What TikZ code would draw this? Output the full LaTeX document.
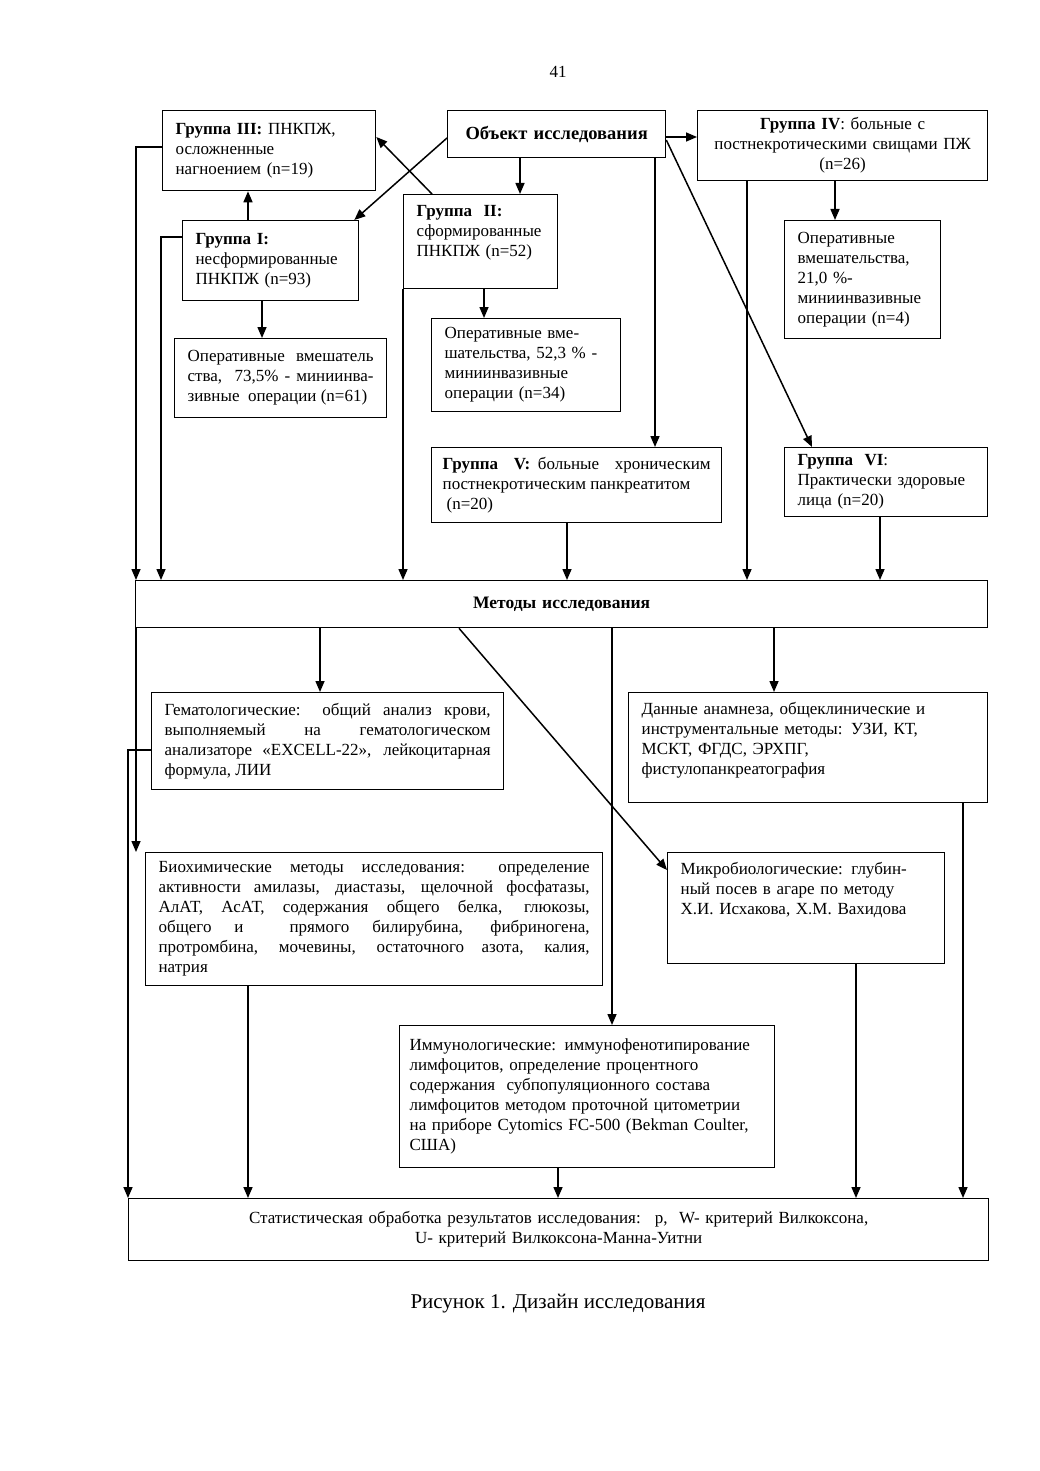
\documentclass[tikz,border=0pt]{standalone}
\usepackage{fontspec}
\setmainfont{Liberation Serif}
\usetikzlibrary{arrows.meta}
\newcommand{\bodyfont}{\fontsize{17}{20}\selectfont}

\begin{document}
\begin{tikzpicture}[
			x=1pt, y=-1pt,
			box/.style={draw, line width=1.3pt, anchor=north west, inner xsep=13pt, inner ysep=2pt, align=left, font=\bodyfont},
			arrow/.style={-{Triangle[length=11pt, width=9pt]}, line width=1.5pt}
		]
		\useasboundingbox (0,0) rectangle (1040,1471);
		\node[font=\bodyfont] (pnum) at (558,72) {41};

		% groups
		\node[box, minimum width=218pt, minimum height=47pt, text width=204pt, inner xsep=7pt, align=center, font=\fontsize{18.5}{22}\selectfont] (obj) at (447,110) {\textbf{Объект исследования}};
		\node[box, minimum width=213pt, minimum height=80pt, text width=187pt] (g3) at (162,110) {\textbf{Группа III:} ПНКПЖ,\\ осложненные\\ нагноением (n=19)};
		\node[box, minimum width=290pt, minimum height=70pt, text width=276pt, inner xsep=7pt, align=center] (g4) at (697,110) {\textbf{Группа IV}: больные с\\ постнекротическими свищами ПЖ\\ (n=26)};
		\node[box, minimum width=176pt, minimum height=80pt, text width=150pt] (g1) at (182,220) {\textbf{Группа I:}\\ несформированные\\ ПНКПЖ (n=93)};
		\node[box, minimum width=154pt, minimum height=94pt, text width=128pt, text depth=62pt] (g2) at (403,194) {\textbf{Группа~ II:}\\ сформированные\\ ПНКПЖ (n=52)};
		\node[box, minimum width=212pt, minimum height=79pt, text width=186pt, align=justify] (op1) at (174,338) {Оперативные вмешатель\linebreak ства,~ 73,5\% - миниинва-\linebreak зивные~ операции (n=61)};
		\node[box, minimum width=189pt, minimum height=93pt, text width=163pt] (op2) at (431,318) {Оперативные вме-\\ шательства, 52,3 \% -\\ миниинвазивные\\ операции (n=34)};
		\node[box, minimum width=156pt, minimum height=118pt, text width=130pt] (op4) at (784,220) {Оперативные\\ вмешательства,\\ 21,0 \%-\\ миниинвазивные\\ операции (n=4)};
		\node[box, minimum width=290pt, minimum height=75pt, inner xsep=7pt, text width=268pt, align=justify] (g5) at (431,447) {\textbf{Группа~ V:} больные~ хроническим\linebreak постнекротическим панкреатитом\\ \hspace*{4pt}(n=20)};
		\node[box, minimum width=203pt, minimum height=69pt, text width=177pt] (g6) at (784,447) {\textbf{Группа~ VI}:\\ Практически здоровые\\ лица (n=20)};

		% methods
		\node[box, minimum width=852pt, minimum height=47pt, text width=826pt, align=center, font=\fontsize{17.5}{20}\selectfont] (met) at (135,580) {\textbf{Методы исследования}};
		\node[box, minimum width=352pt, minimum height=97pt, text width=326pt, align=justify] (hem) at (151,692) {Гематологические: общий анализ крови,\linebreak выполняемый на гематологическом\linebreak анализаторе «EXCELL-22», лейкоцитарная\linebreak формула, ЛИИ};
		\node[box, minimum width=359pt, minimum height=110pt, text width=333pt, text depth=78pt] (dat) at (628,692) {Данные анамнеза, общеклинические и\\ инструментальные методы: УЗИ, КТ,\\ МСКТ, ФГДС, ЭРХПГ,\\ фистулопанкреатография};
		\node[box, minimum width=457pt, minimum height=133pt, text width=431pt, align=justify] (bio) at (145,852) {Биохимические методы исследования: определение\linebreak активности амилазы, диастазы, щелочной фосфатазы,\linebreak АлАТ, АсАТ, содержания общего белка, глюкозы,\linebreak общего и \ прямого билирубина, фибриногена,\linebreak протромбина, мочевины, остаточного азота, калия,\linebreak натрия};
		\node[box, minimum width=277pt, minimum height=111pt, text width=251pt, text depth=79pt] (mic) at (667,852) {Микробиологические: глубин-\\ ный посев в агаре по методу\\ Х.И. Исхакова, Х.М. Вахидова};
		\node[box, minimum width=375pt, minimum height=142pt, text width=355pt, inner xsep=10pt] (imm) at (399,1025) {Иммунологические: иммунофенотипирование\\ лимфоцитов, определение процентного\\ содержания~ субпопуляционного состава\\ лимфоцитов методом проточной цитометрии\\ на приборе Cytomics FC-500 (Bekman Coulter,\\ США)};
		\node[box, minimum width=860pt, minimum height=62pt, text width=834pt, align=center] (stat) at (128,1198) {Статистическая обработка результатов исследования:~ p,~ W- критерий Вилкоксона,\\ U- критерий Вилкоксона-Манна-Уитни};

		\node[font=\fontsize{21}{24}\selectfont] (cap) at (558,1304) {Рисунок 1. Дизайн исследования};

		% top part
		\draw[arrow] (obj.west |- 0,138) -- ([xshift=-5pt]g1.north east);
		\draw[arrow] (g2.north -| 432,0) -- (g3.east |- 0,137);
		\draw[arrow] (g1.north -| 248,0) -- (g3.south -| 248,0);
		\draw[arrow] (obj.south -| 520,0) -- (g2.north -| 520,0);
		\draw[arrow] (obj.east |- 0,137) -- (g4.west |- 0,137);
		\draw[arrow] (obj.south -| 655,0) -- (g5.north -| 655,0);
		\draw[arrow] (obj.east |- 0,140) -- (g6.north -| 812,0);
		\draw[arrow] (g4.south -| 835,0) -- (op4.north -| 835,0);
		\draw[arrow] (g1.south -| 262,0) -- (op1.north -| 262,0);
		\draw[arrow] (g2.south -| 484,0) -- (op2.north -| 484,0);

		% into methods
		\draw[arrow] (g3.west |- 0,147) -| (met.north -| 136,0);
		\draw[arrow] (g1.west |- 0,237) -| (met.north -| 161,0);
		\draw[arrow] (g2.south west) -- (met.north -| 403,0);
		\draw[arrow] (g5.south -| 567,0) -- (met.north -| 567,0);
		\draw[arrow] (g4.south -| 747,0) -- (met.north -| 747,0);
		\draw[arrow] (g6.south -| 880,0) -- (met.north -| 880,0);

		% out of methods
		\draw[arrow] (met.south -| 136,0) -- (bio.north -| 136,0);
		\draw[arrow] (met.south -| 320,0) -- (hem.north -| 320,0);
		\draw[arrow] (met.south -| 459,0) -- (mic.west |- 0,870);
		\draw[arrow] (met.south -| 612,0) -- (imm.north -| 612,0);
		\draw[arrow] (met.south -| 774,0) -- (dat.north -| 774,0);

		% into statistics
		\draw[arrow] (hem.west |- 0,750) -| (stat.north -| 128,0);
		\draw[arrow] (bio.south -| 248,0) -- (stat.north -| 248,0);
		\draw[arrow] (imm.south -| 558,0) -- (stat.north -| 558,0);
		\draw[arrow] (mic.south -| 856,0) -- (stat.north -| 856,0);
		\draw[arrow] (dat.south -| 963,0) -- (stat.north -| 963,0);
	\end{tikzpicture}
\end{document}
